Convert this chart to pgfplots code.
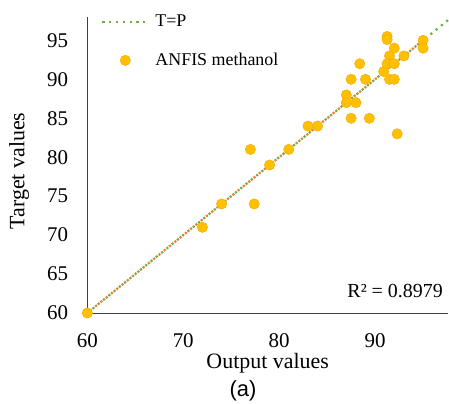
\documentclass[border=0pt]{standalone}
\usepackage{fontspec}
\setmainfont{Liberation Serif}
\newfontfamily\arialfont{Liberation Sans}
\usepackage{pgfplots}
\pgfplotsset{compat=1.18}

\definecolor{tpgreen}{HTML}{70AD47}
\definecolor{trendorange}{HTML}{ED7D31}
\definecolor{ptgold}{HTML}{FFC000}
\definecolor{ptedge}{HTML}{F2A900}
\definecolor{axisgray}{HTML}{404040}

\pgfplotsset{
  wide line legend/.style={legend image code/.code={\draw[##1] (0bp,0bp) -- (46bp,0bp);}},
  wide mark legend/.style={legend image code/.code={\path[draw=none] (0bp,0bp) -- (46bp,0bp);
    \draw[mark repeat=1,mark phase=1,##1] plot coordinates {(23bp,0bp)};}},
}

\begin{document}
\begin{tikzpicture}
\useasboundingbox (0,0) rectangle (449bp,404bp);
\begin{axis}[
  at={(87.3bp,91bp)}, anchor=south west,
  scale only axis, width=360.7bp, height=296bp,
  xmin=60, xmax=97.6, ymin=60, ymax=98,
  clip=false,
  axis x line=bottom, axis y line=left,
  axis line style={-, draw=axisgray, line width=0.8bp},
  xtick={60,70,80,90}, ytick={60,65,...,95},
  major tick length=0pt,
  /pgf/number format/assume math mode=true,
  tick label style={font=\fontsize{21}{21}\selectfont},
  xticklabel style={anchor=north, inner sep=0pt, yshift=-20bp},
  yticklabel style={anchor=east, inner sep=0pt, xshift=-19bp},
  xlabel={Output values}, ylabel={Target values},
  label style={font=\fontsize{22}{22}\selectfont},
  xlabel style={at={(axis description cs:0.5,-0.17)}, anchor=center},
  ylabel style={at={(axis description cs:-0.189,0.48)}, anchor=center},
  legend style={draw=none, fill=none, inner sep=0pt,
    font=\fontsize{18}{18}\selectfont,
    at={(axis description cs:0.038,1.0135)}, anchor=north west,
    column sep=4bp, row sep=21bp, cells={anchor=west}},
  legend cell align=left,
]
% line of perfect agreement
\addplot[tpgreen, line width=2.2bp, dash pattern=on 2.2bp off 4.6bp,
  wide line legend]
  coordinates {(60,60) (97.6,97.6)};
% linear trendline of the ANFIS predictions
\addplot[trendorange, line width=2.2bp, dash pattern=on 2.2bp off 4.6bp,
  dash phase=3.4bp, forget plot]
  coordinates {(60,60) (95,95)};
% ANFIS methanol: output vs target
\addplot[only marks, mark=*, mark size=5.2bp,
  mark options={fill=ptgold, draw=ptedge, line width=0.4bp},
  wide mark legend]
  coordinates {
  (60,60) (72,71) (74,74) (77.4,74) (77,81) (79,79) (81,81)
  (83,84) (84,84) (87,88) (87,87) (87.5,90) (87.5,85) (88,87)
  (88.4,92) (89,90) (89.4,85) (90.9,91) (91.25,95.5) (91.25,95.1)
  (91.5,93) (91.25,92) (92,92) (92,94) (91.5,90) (92,90)
  (92.3,83) (93,93) (95,95) (95,94)
  };
\legend{T=P, ANFIS methanol}
\node[anchor=base east, inner sep=0pt, font=\fontsize{20}{20}\selectfont]
  at (rel axis cs:0.986,0.054) {R² = 0.8979};
\end{axis}
\node[font=\arialfont\fontsize{22}{22}\selectfont] at (243bp,13bp) {(a)};
\end{tikzpicture}
\end{document}
